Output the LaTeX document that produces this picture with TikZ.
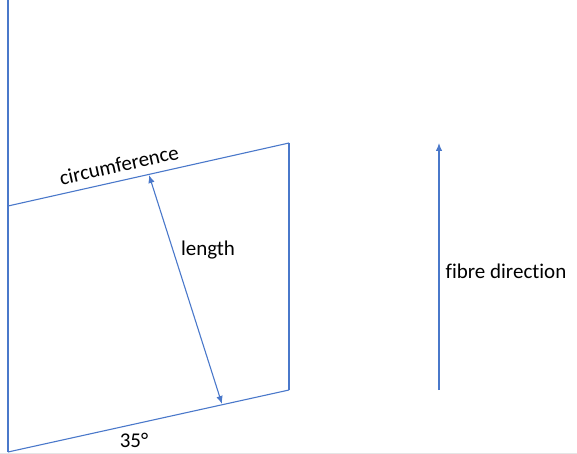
\documentclass[tikz,border=0pt]{standalone}
\usepackage{fontspec}
\setmainfont{Carlito}[Ligatures=NoCommon]
\usetikzlibrary{arrows.meta}
\definecolor{lineblue}{RGB}{74,120,202}
\tikzset{edge/.style={draw,lineblue,line width=1.1pt}}
\begin{document}
\begin{tikzpicture}[x=1pt,y=-1pt,>={Latex[length=8pt,width=6.5pt]},font=\fontsize{21}{25}\selectfont]
\useasboundingbox (0,0) rectangle (577,454);
\coordinate (top) at (8,0);
\coordinate (a) at (8,206);
\coordinate (b) at (289,143);
\coordinate (c) at (289,390);
\coordinate (d) at (8,452);
\coordinate (p) at (149,175);
\coordinate (q) at (222,404);
\coordinate (f1) at (439,390);
\coordinate (f2) at (439,143);
\coordinate (g1) at (0,453);
\coordinate (g2) at (577,453);

\path[draw,gray!20,line width=1pt] (g1) -- (g2);
\path[edge] (top) -- (d);
\path[edge] (a) -- (b);
\path[edge] (b) -- (c);
\path[edge] (c) -- (d);
\path[edge,<->] (p) -- (q);
\path[edge,->] (f1) -- (f2);

\node[rotate=12.6,inner sep=0pt] (circ) at (119,165) {circumference};
\node (len) at (208,250) {length};
\node (ang) at (134,440) {35°};
\node (fib) at (506,271) {fibre direction};
\end{tikzpicture}
\end{document}
